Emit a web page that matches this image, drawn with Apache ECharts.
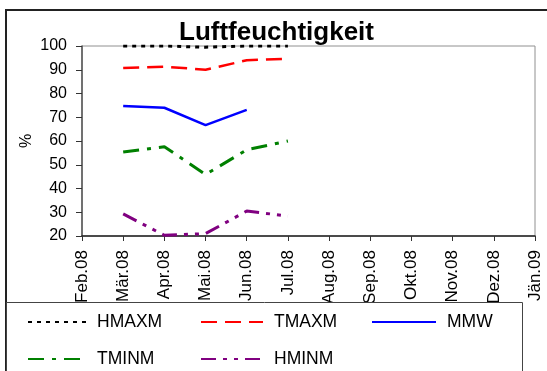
<!DOCTYPE html>
<html><head><meta charset="utf-8">
<script src="https://cdn.jsdelivr.net/npm/echarts@6/dist/echarts.min.js"></script>
<style>html,body{margin:0;padding:0;background:#fff}#c{width:547px;height:371px}</style>
</head><body><div id="c"></div>
<script>
var categories = ['Feb.08','Mär.08','Apr.08','Mai.08','Jun.08','Jul.08','Aug.08','Sep.08','Okt.08','Nov.08','Dez.08','Jän.09'];
var HMAXM = [null, 100, 100, 99.5, 100, 100, null, null, null, null, null, null];
var TMAXM = [null, 90.7, 91.3, 90.0, 94.0, 94.6, null, null, null, null, null, null];
var MMW   = [null, 74.7, 74.0, 66.7, 73.1, null, null, null, null, null, null, null];
var TMINM = [null, 55.4, 57.6, 45.9, 56.3, 60.0, null, null, null, null, null, null];
var HMINM = [null, 29.3, 20.3, 21.0, 30.5, 28.4, null, null, null, null, null, null];
var yTicks = {min: 20, max: 100, interval: 10};

var font = 'Arial, "Liberation Sans", sans-serif';
function ser(name, data, color, width, dash) {
  return {name: name, type: 'line', data: data, symbol: 'none', connectNulls: false,
    lineStyle: {color: color, width: width, type: dash, cap: 'butt'}, itemStyle: {color: color}, z: 3};
}
function leg(name, left, top, w) {
  return {data: [name], left: left, top: top, itemWidth: w, itemHeight: 14, itemGap: 0,
    itemStyle: {opacity: 0},
    textStyle: {fontFamily: font, fontSize: 17.5, color: '#000', padding: [0,0,0,6]}, padding: 0, z: 200, selectedMode: false};
}
var chart = echarts.init(document.getElementById('c'), null, {renderer: 'canvas'});
chart.setOption({
  animation: false,
  backgroundColor: '#fff',
  title: {text: 'Luftfeuchtigkeit', left: 179, top: 20, padding: 0,
    textStyle: {fontFamily: font, fontSize: 26, fontWeight: 'bold', color: '#000'}},
  grid: {left: 82, right: 12, top: 46, bottom: 135, show: true, borderColor: '#909090', borderWidth: 1, backgroundColor: 'transparent'},
  xAxis: {type: 'category', data: categories, boundaryGap: false,
    axisLine: {lineStyle: {color: '#222', width: 1.5}},
    axisTick: {show: true, length: 5, inside: false, alignWithLabel: true, lineStyle: {color: '#333'}},
    axisLabel: {rotate: 90, fontFamily: font, fontSize: 17, color: '#000', margin: 14, interval: 0},
    splitLine: {show: false}},
  yAxis: {type: 'value', min: yTicks.min, max: yTicks.max, interval: yTicks.interval,
    name: '%', nameLocation: 'middle', nameRotate: 90, nameGap: 47, nameMoveOverlap: false,
    nameTextStyle: {fontFamily: font, fontSize: 16, color: '#000'},
    axisLine: {show: true, lineStyle: {color: '#555', width: 1.5}},
    axisTick: {show: true, length: 6, lineStyle: {color: '#333'}},
    axisLabel: {fontFamily: font, fontSize: 16, color: '#000', margin: 15},
    splitLine: {show: false}},
  legend: [
    leg('HMAXM', 27, 313, 58), leg('TMAXM', 200, 313, 62), leg('MMW', 371, 313, 64),
    leg('TMINM', 27, 350, 58), leg('HMINM', 200, 350, 62)
  ],
  graphic: [
    {type: 'rect', shape: {x: 6, y: 10, width: 560, height: 380}, style: {fill: 'none', stroke: '#222', lineWidth: 2}, z: 100, silent: true},
    {type: 'rect', shape: {x: 6.5, y: 302.5, width: 516, height: 90}, style: {fill: '#fff', stroke: '#444', lineWidth: 1}, z: 100, silent: true}
  ],
  series: [
    ser('HMAXM', HMAXM, '#000000', 3, [4, 5]),
    ser('TMAXM', TMAXM, '#ff0000', 2.5, [16, 8]),
    ser('MMW', MMW, '#0000ff', 2.5, 'solid'),
    ser('TMINM', TMINM, '#008000', 3, [16, 8, 4, 8]),
    ser('HMINM', HMINM, '#800080', 3, [15, 7, 4, 7, 4, 7])
  ]
});
</script></body></html>
